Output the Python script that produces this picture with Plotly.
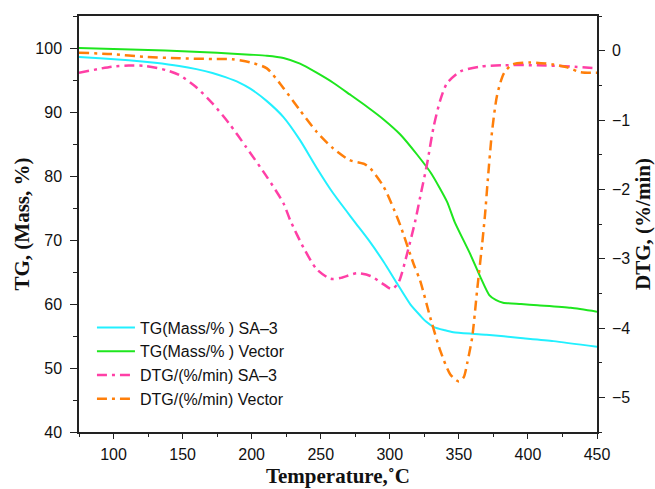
import plotly.graph_objects as go

# ---- data ----
t_tg_sa3 = [75, 90, 111, 130, 147.5, 160, 171.6, 181, 191, 199, 211, 223, 235, 247, 259, 274,
            285, 295.5, 305, 315, 322, 326, 332, 340, 346, 360, 370, 394.5, 418.5, 450]
tg_sa3 = [98.6, 98.4, 98.1, 97.7, 97.2, 96.7, 96.1, 95.45, 94.6, 93.65, 91.7, 89.2, 85.6, 81.3, 77.3, 73.0,
          69.9, 66.6, 63.3, 59.9, 58.2, 57.3, 56.4, 55.9, 55.6, 55.35, 55.2, 54.7, 54.2, 53.3]

t_tg_vec = [75, 100, 125, 150, 175, 199, 211, 223, 235, 247, 259, 271, 283.5, 295.5, 307.6, 319.7,
            330, 341.4, 347, 358, 366, 372, 377, 382, 395, 407, 431, 450]
tg_vec = [100.0, 99.85, 99.7, 99.5, 99.25, 98.96, 98.8, 98.45, 97.55, 96.14, 94.57, 92.75, 90.82,
          88.84, 86.49, 83.36, 80.4, 76.0, 72.8, 67.9, 64.0, 61.4, 60.6, 60.2, 60.0, 59.8, 59.4, 58.8]

t_dtg_sa3 = [75, 99, 111, 123, 138, 147.5, 159.5, 171.6, 183.7, 195.8, 211, 223, 228, 237.5, 247,
             257, 264, 276, 286, 295.5, 301.6, 306.4, 312.5, 318.5, 322, 327, 331.7, 336.6, 341.4,
             351, 365.6, 382.5, 406.7, 430.8, 450]
dtg_sa3 = [-0.32, -0.23, -0.215, -0.22, -0.28, -0.35, -0.52, -0.76, -1.05, -1.385, -1.82, -2.20,
           -2.45, -2.84, -3.15, -3.29, -3.28, -3.21, -3.25, -3.37, -3.44, -3.34, -2.93, -2.45, -2.11,
           -1.63, -1.10, -0.71, -0.47, -0.30, -0.23, -0.21, -0.21, -0.23, -0.255]

t_dtg_vec = [75, 99, 123, 147.5, 171.6, 186, 199, 211, 223, 235, 247, 259, 271, 281, 286, 295.5,
             302.8, 307.6, 317.3, 322, 329.3, 336.6, 343.8, 350, 353.5, 355.9, 359.6, 363.2, 366.8,
             369, 371, 374, 377.7, 382.5, 388.6, 401.8, 418.7, 428.4, 438, 450]
dtg_vec = [-0.03, -0.05, -0.09, -0.11, -0.12, -0.125, -0.17, -0.255, -0.54, -0.86, -1.17, -1.41,
           -1.58, -1.63, -1.70, -1.96, -2.28, -2.52, -3.08, -3.32, -3.85, -4.33, -4.67, -4.77, -4.71,
           -4.52, -4.14, -3.46, -2.80, -2.35, -1.85, -1.17, -0.64, -0.33, -0.20, -0.17, -0.20, -0.24,
           -0.31, -0.32]

names = ["TG(Mass/% ) SA\u20133", "TG(Mass/% ) Vector",
         "DTG/(%/min) SA\u20133", "DTG/(%/min) Vector"]
colors = ["#22F0FF", "#1EE61E", "#FF3FA6", "#FF7F0A"]

x_ticks = [100, 150, 200, 250, 300, 350, 400, 450]
y1_ticks = [40, 50, 60, 70, 80, 90, 100]
y2_ticks = [-5, -4, -3, -2, -1, 0]

dashdot = "10px,5px,3px,5px"

fig = go.Figure()
fig.add_trace(go.Scatter(x=t_tg_sa3, y=tg_sa3, name=names[0], mode="lines",
                         line=dict(color=colors[0], width=2, shape="spline", smoothing=0.6)))
fig.add_trace(go.Scatter(x=t_tg_vec, y=tg_vec, name=names[1], mode="lines",
                         line=dict(color=colors[1], width=2, shape="spline", smoothing=0.6)))
fig.add_trace(go.Scatter(x=t_dtg_sa3, y=dtg_sa3, name=names[2], mode="lines", yaxis="y2",
                         line=dict(color=colors[2], width=2.5, dash=dashdot, shape="spline", smoothing=0.7)))
fig.add_trace(go.Scatter(x=t_dtg_vec, y=dtg_vec, name=names[3], mode="lines", yaxis="y2",
                         line=dict(color=colors[3], width=2.5, dash=dashdot, shape="spline", smoothing=0.7)))

tick_font = dict(family="Liberation Sans, Arial", size=16, color="#111")
title_font = dict(family="Liberation Serif, Times New Roman", size=21, color="#111")
axis_line = dict(showline=True, linecolor="#222", linewidth=1.5, ticks="outside",
                 tickwidth=1.2, tickcolor="#222", showgrid=False, zeroline=False,
                 tickfont=tick_font, automargin=False)

fig.update_layout(
    width=655, height=489,
    margin=dict(l=79, r=58, t=16, b=57),
    paper_bgcolor="white", plot_bgcolor="white",
    showlegend=True,
    legend=dict(x=0.025, y=0.292, xanchor="left", yanchor="top",
                bgcolor="rgba(0,0,0,0)", font=dict(family="Liberation Sans, Arial", size=16, color="#111"),
                itemwidth=38, tracegroupgap=0),
    xaxis=dict(range=[75, 450], tickvals=x_ticks, mirror=True, ticklen=5, ticklabelstandoff=2,
               minor=dict(ticks="outside", dtick=25, ticklen=3, tickcolor="#222"),
               title=dict(text="<b>Temperature,\u02daC</b>", font=title_font, standoff=6),
               **axis_line),
    yaxis=dict(range=[40, 105], tickvals=y1_ticks, ticklen=7, ticklabelstandoff=5,
               minor=dict(ticks="outside", dtick=5, ticklen=4, tickcolor="#222"),
               title=dict(text="<b>TG, (Mass, %)</b>", font=title_font, standoff=0),
               **axis_line),
    yaxis2=dict(range=[-5.5, 0.5], tickvals=y2_ticks, overlaying="y", side="right",
                ticklen=6, ticklabelstandoff=4,
                minor=dict(ticks="outside", dtick=0.5, ticklen=3.5, tickcolor="#222"),
                title=dict(text="<b>DTG, (%/min)</b>", font=title_font, standoff=10),
                **axis_line),
)

fig.write_html("out.html")
